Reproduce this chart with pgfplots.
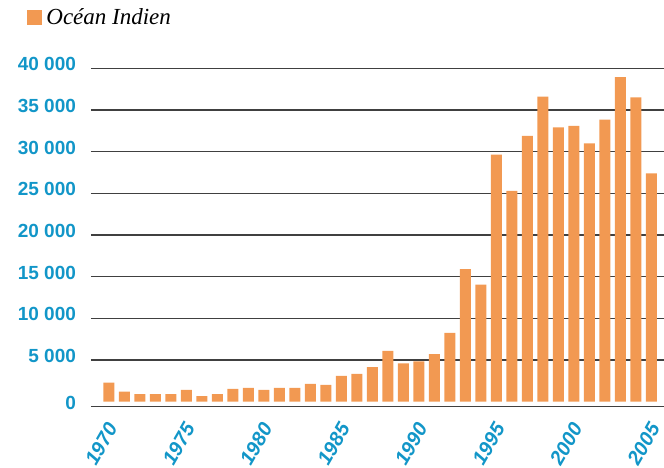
\documentclass[border=0pt]{standalone}
\usepackage{pgfplots}
\pgfplotsset{compat=1.18}
\usepackage{fontspec}
\setmainfont{Liberation Serif}
\setsansfont{Liberation Sans}
\usetikzlibrary{calc}
\definecolor{barorange}{RGB}{242,153,82}
\definecolor{tickblue}{RGB}{18,150,200}
\pgfplotstableread{
year value
1970 2300
1971 1200
1972 920
1973 920
1974 920
1975 1430
1976 680
1977 920
1978 1550
1979 1670
1980 1430
1981 1670
1982 1670
1983 2140
1984 2020
1985 3100
1986 3330
1987 4150
1988 6100
1989 4600
1990 4850
1991 5700
1992 8250
1993 15900
1994 14050
1995 29650
1996 25300
1997 31900
1998 36600
1999 32900
2000 33100
2001 31000
2002 33850
2003 38950
2004 36500
2005 27400
}\datatable
\begin{document}
\begin{tikzpicture}
\begin{axis}[
  name=ax,
  scale only axis,
  width=286.5pt, height=169.2pt,
  xmin=1968.85, xmax=2005.82,
  ymin=-600, ymax=40000,
  scaled y ticks=false,
  axis line style={draw=none},
  major tick length=0pt,
  ytick={-600,5000,10000,15000,20000,25000,30000,35000,40000},
  yticklabels={0,5 000,10 000,15 000,20 000,25 000,30 000,35 000,40 000},
  xtick={1970,1975,1980,1985,1990,1995,2000,2005},
  xticklabels={1970,1975,1980,1985,1990,1995,2000,2005},
  ymajorgrids,
  grid style={black!75, line width=0.65pt},
  yticklabel style={font=\fontsize{9.5}{11}\selectfont\sffamily\bfseries, text=tickblue, anchor=east, xshift=-4pt, yshift=2pt},
  xticklabel style={font=\fontsize{10}{12}\selectfont\sffamily\bfseries\itshape, text=tickblue, xshift=3.5pt, yshift=-6pt, rotate=60, anchor=east},
  legend style={at={(rel axis cs:0,1)}, anchor=south west, xshift=-32pt, yshift=18pt, draw=none, fill=none, inner sep=0pt, font=\fontsize{11.5}{13}\selectfont\itshape},
  legend image code/.code={\fill[barorange] (0pt,-3.4pt) rectangle (7.5pt,4.1pt);},
]
\addplot[ybar, bar width=0.71, fill=barorange, draw=none] table[x=year, y=value] {\datatable};
\addlegendentry{Océan Indien}
\end{axis}
\pgfresetboundingbox
\path ($(ax.south west)+(-45.5pt,-30.15pt)$) rectangle ($(ax.north east)+(0pt,34.15pt)$);
\end{tikzpicture}
\end{document}
